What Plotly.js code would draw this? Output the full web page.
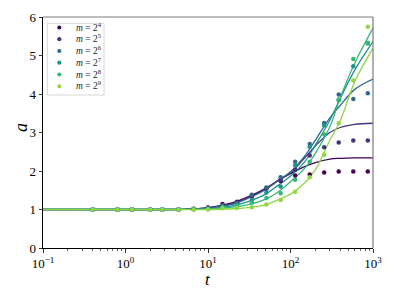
<!DOCTYPE html>
<html><head><meta charset="utf-8">
<script src="https://cdn.plot.ly/plotly-3.0.1.min.js"></script>
<style>html,body{margin:0;padding:0;background:#fff}</style>
</head><body>
<div id="chart" style="width:394px;height:296px"></div>
<script>
// series labels
const seriesNames = ['<i>m</i> = 2<sup>4</sup>','<i>m</i> = 2<sup>5</sup>','<i>m</i> = 2<sup>6</sup>','<i>m</i> = 2<sup>7</sup>','<i>m</i> = 2<sup>8</sup>','<i>m</i> = 2<sup>9</sup>'];
const seriesColors = ['#440154','#46327e','#31688e','#21918c','#35b779','#90d743'];

// measured points
const tPts = [0.4, 0.8, 1.2, 2.0, 2.8, 4.4, 6.7, 10, 15, 22.5, 34, 51, 76, 114, 171, 256, 384, 577, 865];
const ptsM4 = [1,1,1,1,1,1.005,1.02, 1.05,1.14,1.20,1.36,1.54,1.74,1.88,1.91,1.96,1.99,1.99,1.99];
const ptsM5 = [1,1,1,1,1,1.004,1.015,1.04,1.12,1.18,1.34,1.55,1.77,2.03,2.40,2.62,2.74,2.79,2.79];
const ptsM6 = [1,1,1,1,1,1.003,1.01, 1.04,1.10,1.16,1.38,1.57,1.84,2.24,2.70,3.25,3.99,3.87,4.02];
const ptsM7 = [1,1,1,1,1,1.002,1.008,1.02,1.08,1.13,1.25,1.44,1.60,2.15,2.63,3.19,3.84,4.72,5.31];
const ptsM8 = [1,1,1,1,1,1.001,1.005,1.01,1.05,1.10,1.18,1.30,1.42,1.77,2.24,2.95,3.86,4.91,5.33];
const ptsM9 = [1,1,1,1,1,1,1,     1.00,1.03,1.04,1.06,1.13,1.25,1.46,1.84,2.42,3.24,4.35,5.75];

// fitted curves, read at these times
const tFit = [0.1, 1, 3, 5, 10, 20, 30, 50, 70, 100, 150, 200, 300, 400, 600, 1000];
const fitM4 = [1,1,1,1.005,1.05,1.18,1.32,1.55,1.75,1.93,2.12,2.22,2.31,2.33,2.34,2.34];
const fitM5 = [1,1,1,1.005,1.04,1.16,1.30,1.53,1.74,1.95,2.35,2.65,3.00,3.13,3.21,3.24];
const fitM6 = [1,1,1,1.004,1.04,1.14,1.28,1.52,1.75,1.98,2.40,2.80,3.38,3.70,4.12,4.39];
const fitM7 = [1,1,1,1.002,1.02,1.10,1.20,1.40,1.62,1.87,2.25,2.67,3.32,3.88,4.62,5.36];
const fitM8 = [1,1,1,1.001,1.01,1.06,1.12,1.27,1.45,1.72,2.08,2.46,3.15,3.90,4.80,5.71];
const fitM9 = [1,1,1,1,1.00,1.02,1.05,1.12,1.25,1.40,1.70,2.03,2.80,3.30,4.32,5.19];

// axis ticks
const xTickVals = [0.1, 1, 10, 100, 1000];
const xTickText = ['10<sup>−1</sup>','10<sup>0</sup>','10<sup>1</sup>','10<sup>2</sup>','10<sup>3</sup>'];
const yTickVals = [0,1,2,3,4,5,6];
const xTitle = '<i>t</i>';
const yTitle = '<i>a</i>';

const pts = [ptsM4, ptsM5, ptsM6, ptsM7, ptsM8, ptsM9];
const fits = [fitM4, fitM5, fitM6, fitM7, fitM8, fitM9];

const minorVals = [];
for (let e = -1; e < 3; e++) for (let d = 2; d <= 9; d++) minorVals.push(d * Math.pow(10, e));

const traces = [];
fits.forEach((f, i) => traces.push({
  x: tFit, y: f, type: 'scatter', mode: 'lines', showlegend: false,
  line: {color: seriesColors[i], width: 1.3, shape: 'spline', smoothing: 1}, hoverinfo: 'skip'
}));
pts.forEach((p, i) => traces.push({
  x: tPts, y: p, type: 'scatter', mode: 'markers', name: seriesNames[i], showlegend: false,
  marker: {color: seriesColors[i], size: 4.5}
}));

const serif = 'Liberation Serif';
// hand-built legend (matplotlib-style compact spacing), in plot-area pixels
const W = 330, H = 231;
const px = v => v / W, py = v => 1 - v / H;
const legLeft = 4.3, legRight = 61, legTop = 6.3, legBottom = 78;
const rowY = [10.5, 22.2, 34, 45.7, 57.5, 69.3];
const shapes = [
  {type: 'line', xref: 'paper', yref: 'paper', x0: 0, x1: 1, y0: 1, y1: 1, line: {color: '#7a7a7a', width: 1.2}},
  {type: 'line', xref: 'paper', yref: 'paper', x0: 1, x1: 1, y0: 0, y1: 1, line: {color: '#7a7a7a', width: 1.2}},
  {type: 'rect', xref: 'paper', yref: 'paper', x0: px(legLeft), x1: px(legRight), y0: py(legBottom), y1: py(legTop),
   line: {color: '#d6d6d6', width: 1}, fillcolor: 'rgba(255,255,255,0.85)', layer: 'above'}
];
const annotations = [];
seriesNames.forEach((n, i) => {
  shapes.push({type: 'circle', xref: 'paper', yref: 'paper', xsizemode: 'pixel', ysizemode: 'pixel',
    xanchor: px(16.3), yanchor: py(rowY[i]), x0: -2.1, x1: 2.1, y0: -2.1, y1: 2.1,
    fillcolor: seriesColors[i], line: {width: 0}, layer: 'above'});
  annotations.push({xref: 'paper', yref: 'paper', x: px(31), y: py(rowY[i] - 1), xanchor: 'left', yanchor: 'middle',
    text: n, showarrow: false, font: {family: serif, size: 9.5, color: '#222'}});
});
// axis titles placed like the reference
annotations.push({xref: 'paper', yref: 'paper', x: 0.5, y: py(262), xanchor: 'center', yanchor: 'middle',
  text: xTitle, showarrow: false, font: {family: serif, size: 17, color: '#000'}});
annotations.push({xref: 'paper', yref: 'paper', x: px(-22), y: py(111), xanchor: 'center', yanchor: 'middle',
  text: yTitle, textangle: -90, showarrow: false, font: {family: serif, size: 18, color: '#000'}});

const layout = {
  width: 394, height: 296,
  margin: {l: 43, r: 21, t: 17, b: 48},
  paper_bgcolor: '#fff', plot_bgcolor: '#fff',
  font: {family: serif, size: 12, color: '#000'},
  showlegend: false,
  xaxis: {
    type: 'log', range: [-1, 3], showgrid: false, zeroline: false,
    showline: true, linecolor: '#000', linewidth: 1, mirror: false,
    ticks: 'outside', ticklen: 3.5, tickwidth: 0.8, tickcolor: '#000',
    tickmode: 'array', tickvals: xTickVals, ticktext: xTickText,
    tickfont: {family: serif, size: 13},
    minor: {ticks: 'outside', ticklen: 2, tickwidth: 0.6, tickcolor: '#000', tickmode: 'array', tickvals: minorVals, showgrid: false}
  },
  yaxis: {
    range: [0, 6], showgrid: false, zeroline: false,
    showline: true, linecolor: '#000', linewidth: 1,
    ticks: 'outside', ticklen: 3.5, tickwidth: 0.8, tickcolor: '#000',
    tickmode: 'array', tickvals: yTickVals,
    tickfont: {family: serif, size: 13}
  },
  shapes: shapes,
  annotations: annotations
};
Plotly.newPlot('chart', traces, layout, {displayModeBar: false, staticPlot: true});
</script>
</body></html>
